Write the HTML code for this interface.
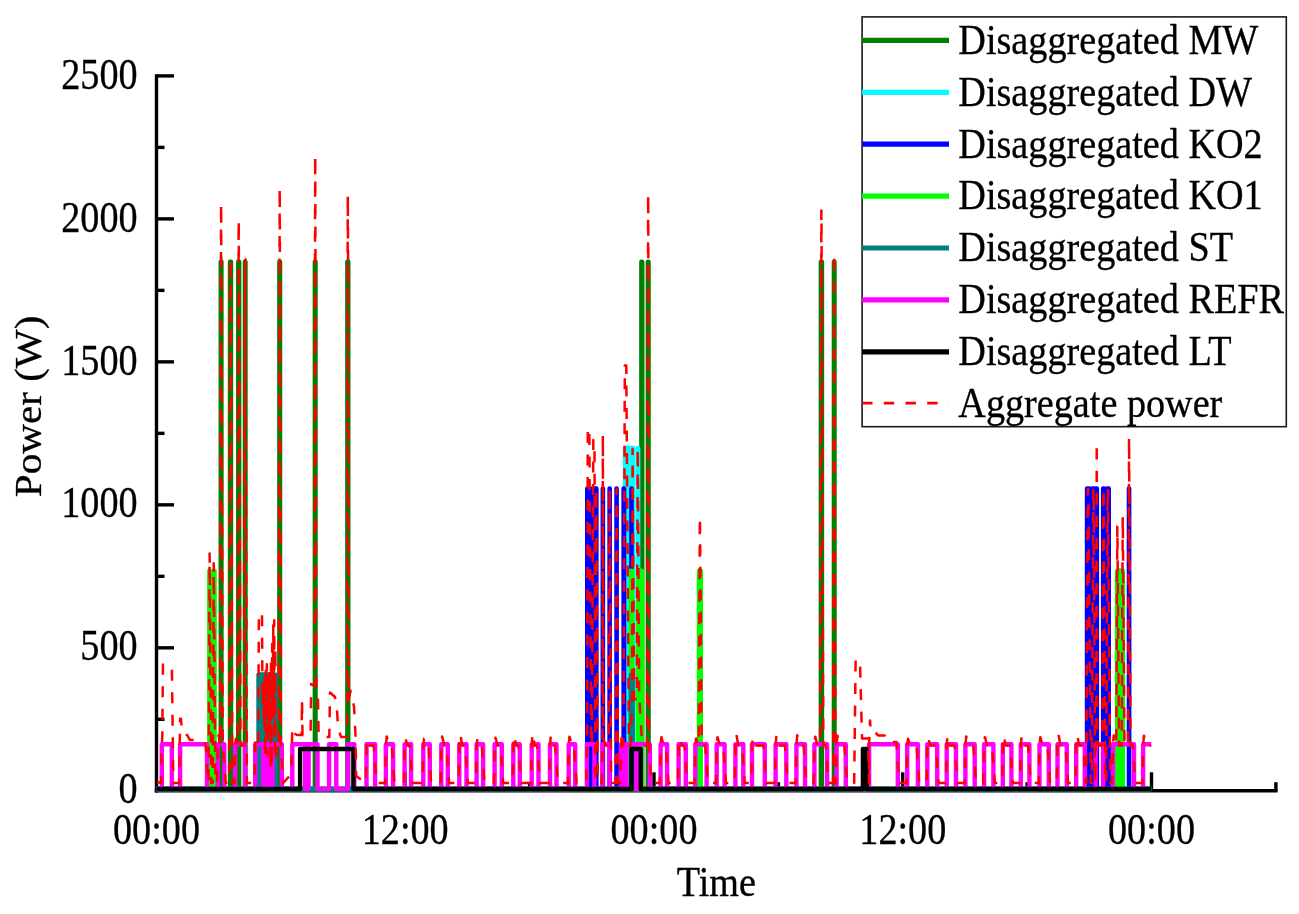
<!DOCTYPE html>
<html lang="en">
<head>
<meta charset="utf-8">
<title>Disaggregated power</title>
<style>
html,body{margin:0;padding:0;background:#fff;}
body{width:1299px;height:914px;overflow:hidden;font-family:"Liberation Serif",serif;}
svg{display:block;}
</style>
</head>
<body>
<svg width="1299" height="914" viewBox="0 0 1299 914">
<rect width="1299" height="914" fill="#fff"/>
<g stroke="#000" stroke-width="3.4" fill="none" stroke-linecap="butt">
<path d="M156.50,74.20V792.50"/>
<path d="M154.80,790.80H1277.58"/>
<path d="M156.50,719.31h8.0"/>
<path d="M156.50,647.82h17.5"/>
<path d="M156.50,576.33h8.0"/>
<path d="M156.50,504.84h17.5"/>
<path d="M156.50,433.35h8.0"/>
<path d="M156.50,361.86h17.5"/>
<path d="M156.50,290.37h8.0"/>
<path d="M156.50,218.88h17.5"/>
<path d="M156.50,147.39h8.0"/>
<path d="M156.50,75.90h17.5"/>
<path d="M280.88,790.80v-8.6"/>
<path d="M405.25,790.80v-18.5"/>
<path d="M529.62,790.80v-8.6"/>
<path d="M654.00,790.80v-18.5"/>
<path d="M778.38,790.80v-8.6"/>
<path d="M902.75,790.80v-18.5"/>
<path d="M1027.12,790.80v-8.6"/>
<path d="M1151.50,790.80v-18.5"/>
<path d="M1275.88,790.80v-8.6"/>
</g>
<g fill="none" stroke-width="4.4" stroke-linejoin="round" stroke-linecap="butt">
<path stroke="#008000" d="M156.50,789.00H220.75V261.70H221.45V789.00H230.00V261.70H231.00V789.00H238.25V261.70H239.15V789.00H244.90V261.70H245.50V789.00H279.35V261.70H280.05V789.00H314.85V261.70H315.55V789.00H347.35V261.70H348.25V789.00H641.35V261.70H642.25V789.00H647.85V261.70H648.55V789.00H820.85V261.70H821.95V789.00H833.90V261.70H834.50V789.00H1151.20"/>
<path stroke="#00ffff" d="M156.50,789.00H625.00V448.00H625.75V789.00H626.50V448.00H627.25V789.00H628.00V448.00H628.75V789.00H629.50V448.00H630.25V789.00H631.00V448.00H631.75V789.00H632.50V448.00H633.25V789.00H637.95V448.00H638.15V789.00H1151.20"/>
<path stroke="#0000ff" d="M156.50,789.00H587.20V488.40H590.00V789.00H592.60V488.40H594.60V789.00H596.00V488.40H596.40V789.00H602.75V488.40H602.95V789.00H609.55V488.40H609.75V789.00H616.50V488.40H616.70V789.00H623.60V488.40H624.10V789.00H631.40V488.40H631.60V789.00H1087.00V488.40H1089.40V789.00H1092.60V488.40H1094.60V789.00H1096.60V488.40H1096.90V789.00H1103.10V488.40H1103.90V789.00H1106.90V488.40H1108.80V789.00H1128.90V488.40H1129.20V789.00H1151.20"/>
<path stroke="#00ff00" d="M156.50,789.00H209.30V570.60H209.90V789.00H213.60V570.60H214.60V789.00H630.80V570.60H632.10V789.00H638.00V570.60H638.75V789.00H639.50V570.60H640.25V789.00H641.00V570.60H641.75V789.00H699.00V570.60H700.80V789.00H1117.10V570.60H1117.85V789.00H1118.60V570.60H1119.35V789.00H1120.10V570.60H1120.85V789.00H1121.60V570.60H1122.90V789.00H1151.20"/>
<path stroke="#008080" d="M156.50,789.00H258.50V674.60H259.25V789.00H260.00V674.60H260.75V789.00H261.50V674.60H262.25V789.00H263.00V674.60H263.75V789.00H264.50V674.60H265.25V789.00H266.00V674.60H266.75V789.00H267.50V674.60H268.25V789.00H269.00V674.60H269.75V789.00H270.50V674.60H271.25V789.00H272.00V674.60H272.75V789.00H273.50V674.60H274.25V789.00H275.00V674.60H275.75V789.00H630.80V674.60H631.45V789.00H632.10V674.60H632.75V789.00H1151.20"/>
<path stroke="#ff00ff" d="M156.50,789.00H161.80V744.30H171.80V789.00H180.10V744.30H207.00V789.00H217.80V744.30H224.30V789.00H235.10V744.30H245.10V789.00H255.20V744.30H281.80V789.00H292.30V744.30H317.50V789.00H329.10V744.30H336.30V789.00H347.80V744.30H354.30V789.00H366.50V744.30H375.10V789.00H385.90V744.30H393.10V789.00H404.60V744.30H411.10V789.00H423.30V744.30H429.80V789.00H441.30V744.30H447.80V789.00H459.30V744.30H466.50V789.00H476.60V744.30H483.10V789.00H494.60V744.30H501.80V789.00H513.30V744.30H519.80V789.00H531.70V744.30H538.50V789.00H550.00V744.30H556.50V789.00H568.70V744.30H575.20V789.00H586.90V744.30H594.40V789.00H602.40V744.30H609.60V789.00H621.10V744.30H636.40V789.00H637.10V744.30H649.80V789.00H660.60V744.30H667.10V789.00H678.60V744.30H685.80V789.00H695.30V744.30H706.60V789.00H716.70V744.30H724.60V789.00H735.40V744.30H743.30V789.00H752.00V744.30H764.80V789.00H775.60V744.30H786.30V789.00H796.40V744.30H805.00V789.00H814.40V744.30H827.10V789.00H836.60V744.30H845.80V789.00H869.10V744.30H897.80V789.00H907.20V744.30H917.90V789.00H927.30V744.30H937.20V789.00H946.70V744.30H956.00V789.00H965.40V744.30H974.70V789.00H984.10V744.30H993.40V789.00H1002.80V744.30H1011.40V789.00H1020.80V744.30H1029.40V789.00H1039.50V744.30H1048.80V789.00H1057.50V744.30H1066.80V789.00H1076.20V744.30H1084.80V789.00H1095.70V744.30H1103.30V789.00H1112.90V744.30H1134.00V789.00H1143.10V744.30H1151.20M263.20,744.30V789.00H263.60V744.30H264.35V789.00H265.10V744.30H265.85V789.00H266.60V744.30H267.35V789.00H268.10V744.30H268.85V789.00H269.60V744.30H270.35V789.00H271.10V744.30H271.85V789.00H272.60V744.30H273.35M305.20,744.30V789.00H305.60V744.30H306.35V789.00H307.10V744.30H307.85V789.00H308.60V744.30H309.35M621.40,744.30V789.00H621.80V744.30H622.55V789.00H623.30V744.30H624.05V789.00H624.80V744.30H625.55V789.00H626.30V744.30H627.05"/>
<path stroke="#000000" d="M156.50,789.00H300.10V749.00H353.40V789.00H631.50V749.00H640.80V789.00H862.90V749.00H866.60V789.00H1151.20"/>
</g>
<path d="M157.10,782.00L161.08,783.00L161.84,745.44L161.86,745.44L162.22,737.12L162.28,737.12L162.96,664.50L165.15,664.50L167.85,669.00L171.91,669.00L173.35,783.00L179.28,783.00L180.04,718.80L180.97,718.80L181.64,727.00L182.97,727.00L185.35,735.00L187.15,735.00L189.85,740.00L195.65,740.00L198.35,743.50L205.65,743.50L208.03,783.00L208.58,783.00L209.57,553.60L209.63,553.60L211.25,783.00L212.68,783.00L213.67,563.30L213.73,563.30L215.35,783.00L217.08,783.00L217.84,745.44L217.86,745.44L218.58,735.06L218.72,735.06L220.01,745.44L220.14,745.44L221.06,203.60L221.13,203.60L222.73,745.44L223.02,745.44L225.65,783.00L229.28,783.00L230.45,259.00L230.55,259.00L232.35,783.00L234.38,783.00L235.14,745.44L235.16,745.44L235.88,738.70L236.02,738.70L237.40,745.44L237.55,745.44L238.66,220.40L238.75,220.40L240.50,745.44L244.18,745.44L244.99,259.00L245.32,259.00L246.85,783.00L254.48,783.00L255.25,745.44L255.25,745.44L255.98,735.79L256.12,735.79L258.20,742.00L258.90,613.00L262.00,613.00L262.50,705.00L263.60,683.15L264.08,726.58L264.60,677.26L265.15,756.79L265.79,668.97L266.28,752.73L266.85,664.35L267.55,756.56L267.95,674.64L268.67,735.72L269.18,673.14L269.72,726.53L270.12,677.80L270.59,767.88L271.00,658.40L271.68,766.63L272.15,643.79L272.83,717.21L273.27,623.48L273.82,720.71L274.20,620.29L274.78,750.53L275.33,647.66L275.73,762.24L276.80,742.00L277.50,742.00L278.63,745.44L279.67,187.80L279.74,187.80L280.84,745.44L281.01,745.44L283.15,783.00L291.30,774.00L292.30,727.50L293.50,733.00L297.00,735.00L301.60,735.00L302.00,700.00L302.50,735.00L306.00,735.00L310.60,735.00L311.20,684.00L314.60,686.00L315.00,262.00L315.20,155.30L315.50,262.00L316.20,695.00L318.00,699.50L318.60,735.00L322.00,737.00L329.30,737.00L330.00,692.50L335.00,697.00L337.00,710.00L338.00,727.00L341.00,737.00L347.20,737.00L347.60,262.00L347.80,195.10L348.10,262.00L348.70,700.00L350.50,690.70L354.00,706.50L355.50,735.00L356.20,776.00L365.78,783.00L366.55,745.44L366.56,745.44L367.28,738.92L367.43,738.92L369.45,745.44L373.75,745.44L376.45,783.00L385.18,783.00L385.94,745.44L385.95,745.44L386.68,736.43L386.82,736.43L388.85,745.44L391.75,745.44L394.45,783.00L403.88,783.00L404.64,745.44L404.66,745.44L405.38,738.72L405.52,738.72L407.55,745.44L409.75,745.44L412.45,783.00L422.58,783.00L423.34,745.44L423.36,745.44L424.07,738.59L424.22,738.59L426.25,745.44L428.45,745.44L431.15,783.00L440.58,783.00L441.34,745.44L441.36,745.44L442.07,736.49L442.22,736.49L444.25,745.44L446.45,745.44L449.15,783.00L458.58,783.00L459.34,745.44L459.36,745.44L460.07,733.96L460.22,733.96L462.25,745.44L465.15,745.44L467.85,783.00L475.88,783.00L476.64,745.44L476.66,745.44L477.38,738.38L477.52,738.38L479.55,745.44L481.75,745.44L484.45,783.00L493.88,783.00L494.64,745.44L494.66,745.44L495.38,737.75L495.52,737.75L497.55,745.44L500.45,745.44L503.15,783.00L512.58,783.00L513.34,745.44L513.36,745.44L514.07,735.21L514.23,735.21L516.25,745.44L518.45,745.44L521.15,783.00L530.98,783.00L531.75,745.44L531.75,745.44L532.47,733.20L532.62,733.20L534.65,745.44L537.15,745.44L539.85,783.00L549.28,783.00L550.04,745.44L550.06,745.44L550.77,735.53L550.93,735.53L552.95,745.44L555.15,745.44L557.85,783.00L567.98,783.00L568.75,745.44L568.75,745.44L569.47,736.66L569.62,736.66L571.65,745.44L573.85,745.44L576.55,783.00L586.18,783.00L586.94,745.44L586.96,745.44L587.09,733.02L587.11,733.02L587.79,428.00L589.33,428.00L591.17,745.44L591.88,745.44L593.32,440.00L594.51,440.00L595.23,783.00L595.37,783.00L596.18,488.90L596.22,488.90L597.75,783.00L601.68,783.00L602.44,745.44L602.46,745.44L602.61,738.86L602.64,738.86L602.84,435.00L602.86,435.00L603.42,738.86L603.53,738.86L605.35,745.44L608.83,745.44L609.57,488.90L609.68,488.90L611.10,783.00L615.78,783.00L616.59,488.90L616.61,488.90L618.05,783.00L620.38,783.00L621.14,745.44L621.16,745.44L621.88,733.76L622.03,733.76L623.33,745.44L623.47,745.44L624.82,365.50L626.25,365.50L628.95,745.44L630.78,745.44L631.90,699.16L632.00,699.16L632.58,449.00L632.62,449.00L634.15,699.16L636.78,699.16L637.68,448.00L637.72,448.00L639.20,699.16L639.50,699.16L642.15,745.44L647.13,745.44L648.16,194.00L648.24,194.00L649.11,745.44L649.24,745.44L651.15,783.00L659.88,783.00L660.64,745.44L660.66,745.44L661.38,737.33L661.53,737.33L663.55,745.44L665.75,745.44L668.45,783.00L677.88,783.00L678.64,745.44L678.66,745.44L679.38,738.25L679.53,738.25L681.55,745.44L684.45,745.44L687.15,783.00L694.58,783.00L695.34,745.44L695.36,745.44L696.07,738.41L696.23,738.41L698.02,745.44L698.68,745.44L699.85,516.80L699.95,516.80L701.75,745.44L705.25,745.44L707.95,783.00L715.98,783.00L716.75,745.44L716.75,745.44L717.47,737.22L717.62,737.22L719.65,745.44L723.25,745.44L725.95,783.00L734.68,783.00L735.44,745.44L735.46,745.44L736.17,734.02L736.33,734.02L738.35,745.44L741.95,745.44L744.65,783.00L751.28,783.00L752.04,745.44L752.06,745.44L752.77,738.02L752.93,738.02L754.95,745.44L763.45,745.44L766.15,783.00L774.88,783.00L775.64,745.44L775.66,745.44L776.38,735.50L776.53,735.50L778.55,745.44L784.95,745.44L787.65,783.00L795.68,783.00L796.44,745.44L796.46,745.44L797.17,735.14L797.33,735.14L799.35,745.44L803.65,745.44L806.35,783.00L813.68,783.00L814.44,745.44L814.46,745.44L815.17,736.81L815.33,736.81L817.35,745.44L820.13,745.44L821.35,210.60L821.46,210.60L823.30,745.44L825.75,745.44L828.45,783.00L833.18,783.00L834.17,253.40L834.23,253.40L835.45,783.00L835.88,783.00L836.64,745.44L836.66,745.44L837.38,735.71L837.53,735.71L839.55,745.44L844.45,745.44L847.15,783.00L854.18,783.00L855.62,660.00L859.95,660.00L862.02,738.50L867.92,738.50L869.04,783.00L869.06,783.00L869.14,745.44L869.16,745.44L869.34,738.76L869.37,738.76L870.00,720.50L870.11,720.50L870.64,733.00L875.65,733.00L878.35,735.50L884.65,735.50L887.35,742.00L896.45,742.00L899.15,783.00L906.48,783.00L907.25,745.44L907.25,745.44L907.97,738.78L908.12,738.78L910.15,745.44L916.55,745.44L919.25,783.00L926.58,783.00L927.34,745.44L927.36,745.44L928.07,737.86L928.23,737.86L930.25,745.44L935.85,745.44L938.55,783.00L945.98,783.00L946.75,745.44L946.75,745.44L947.47,734.88L947.62,734.88L949.65,745.44L954.65,745.44L957.35,783.00L964.68,783.00L965.44,745.44L965.46,745.44L966.17,736.47L966.33,736.47L968.35,745.44L973.35,745.44L976.05,783.00L983.38,783.00L984.14,745.44L984.16,745.44L984.88,737.18L985.03,737.18L987.05,745.44L992.05,745.44L994.75,783.00L1002.08,783.00L1002.84,745.44L1002.86,745.44L1003.57,735.47L1003.73,735.47L1005.75,745.44L1010.05,745.44L1012.75,783.00L1020.08,783.00L1020.84,745.44L1020.86,745.44L1021.57,736.31L1021.73,736.31L1023.75,745.44L1028.05,745.44L1030.75,783.00L1038.78,783.00L1039.55,745.44L1039.55,745.44L1040.27,737.27L1040.42,737.27L1042.45,745.44L1047.45,745.44L1050.15,783.00L1056.78,783.00L1057.55,745.44L1057.55,745.44L1058.27,734.16L1058.42,734.16L1060.45,745.44L1065.45,745.44L1068.15,783.00L1075.48,783.00L1076.24,745.44L1076.26,745.44L1076.97,734.76L1077.12,734.76L1079.15,745.44L1083.45,745.44L1085.79,783.00L1086.28,783.00L1087.72,488.90L1088.32,488.90L1090.75,783.00L1091.88,783.00L1093.32,488.90L1093.70,488.90L1095.10,783.00L1095.20,783.00L1095.74,745.44L1095.76,745.44L1096.16,737.62L1096.24,737.62L1096.73,442.60L1096.77,442.60L1097.08,737.62L1097.12,737.62L1098.65,745.44L1102.38,745.44L1103.19,488.90L1103.63,488.90L1105.25,783.00L1106.18,783.00L1107.62,488.90L1107.94,488.90L1110.15,783.00L1112.18,783.00L1112.95,745.44L1112.95,745.44L1113.67,735.54L1113.83,735.54L1115.62,745.44L1116.28,745.44L1117.32,526.30L1117.38,526.30L1119.05,745.44L1121.68,745.44L1122.71,516.50L1122.79,516.50L1124.45,745.44L1128.18,745.44L1129.04,437.70L1129.07,437.70L1130.55,745.44L1132.65,745.44L1135.35,783.00L1142.38,783.00L1143.14,745.44L1143.15,745.44L1143.88,735.85L1144.03,735.85L1146.05,745.44L1151.20,745.44" fill="none" stroke="#ff0000" stroke-width="2.5" stroke-dasharray="11 11.5" stroke-linejoin="round"/>
<rect x="862.1" y="16.9" width="424.2" height="409.8" fill="#fff" stroke="#1a1a1a" stroke-width="1.6"/>
<path d="M862.1,40.4H949" stroke="#008000" stroke-width="5.2" fill="none"/>
<path d="M862.1,92.3H949" stroke="#00ffff" stroke-width="5.2" fill="none"/>
<path d="M862.1,144.2H949" stroke="#0000ff" stroke-width="5.2" fill="none"/>
<path d="M862.1,196.1H949" stroke="#00ff00" stroke-width="5.2" fill="none"/>
<path d="M862.1,248.0H949" stroke="#008080" stroke-width="5.2" fill="none"/>
<path d="M862.1,299.9H949" stroke="#ff00ff" stroke-width="5.2" fill="none"/>
<path d="M862.1,351.8H949" stroke="#000000" stroke-width="5.2" fill="none"/>
<path d="M862.1,403.1H949" stroke="#ff0000" stroke-width="2.9" stroke-dasharray="10.4 11.3" fill="none"/>
<g font-family="'Liberation Serif', 'Times New Roman', Times, serif" font-size="38.2" fill="#000" stroke="#000" stroke-width="0.3">
<text transform="translate(958.3,53.7) scale(1,1.12)" text-anchor="start">Disaggregated MW</text>
<text transform="translate(958.3,105.6) scale(1,1.12)" text-anchor="start">Disaggregated DW</text>
<text transform="translate(958.3,157.5) scale(1,1.12)" text-anchor="start">Disaggregated KO2</text>
<text transform="translate(958.3,209.4) scale(1,1.12)" text-anchor="start">Disaggregated KO1</text>
<text transform="translate(958.3,261.3) scale(1,1.12)" text-anchor="start">Disaggregated ST</text>
<text transform="translate(958.3,313.2) scale(1,1.12)" text-anchor="start">Disaggregated REFR</text>
<text transform="translate(958.3,365.1) scale(1,1.12)" text-anchor="start">Disaggregated LT</text>
<text transform="translate(958.3,417.0) scale(1,1.12)" text-anchor="start">Aggregate power</text>
<text transform="translate(137.6,803.4) scale(1,1.15)" text-anchor="end">0</text>
<text transform="translate(137.6,660.4) scale(1,1.15)" text-anchor="end">500</text>
<text transform="translate(137.6,517.4) scale(1,1.15)" text-anchor="end">1000</text>
<text transform="translate(137.6,374.5) scale(1,1.15)" text-anchor="end">1500</text>
<text transform="translate(137.6,231.5) scale(1,1.15)" text-anchor="end">2000</text>
<text transform="translate(137.6,88.5) scale(1,1.15)" text-anchor="end">2500</text>
<text transform="translate(156.5,844.0) scale(1,1.15)" text-anchor="middle">00:00</text>
<text transform="translate(405.2,844.0) scale(1,1.15)" text-anchor="middle">12:00</text>
<text transform="translate(654.0,844.0) scale(1,1.15)" text-anchor="middle">00:00</text>
<text transform="translate(902.8,844.0) scale(1,1.15)" text-anchor="middle">12:00</text>
<text transform="translate(1151.5,844.0) scale(1,1.15)" text-anchor="middle">00:00</text>
<text transform="translate(716.3,896.3) scale(1,1.12)" text-anchor="middle">Time</text>
<text transform="translate(40.9,406.4) rotate(-90) scale(1.10,1)" text-anchor="middle" font-size="37.4">Power (W)</text>
</g>
</svg>
</body>
</html>
